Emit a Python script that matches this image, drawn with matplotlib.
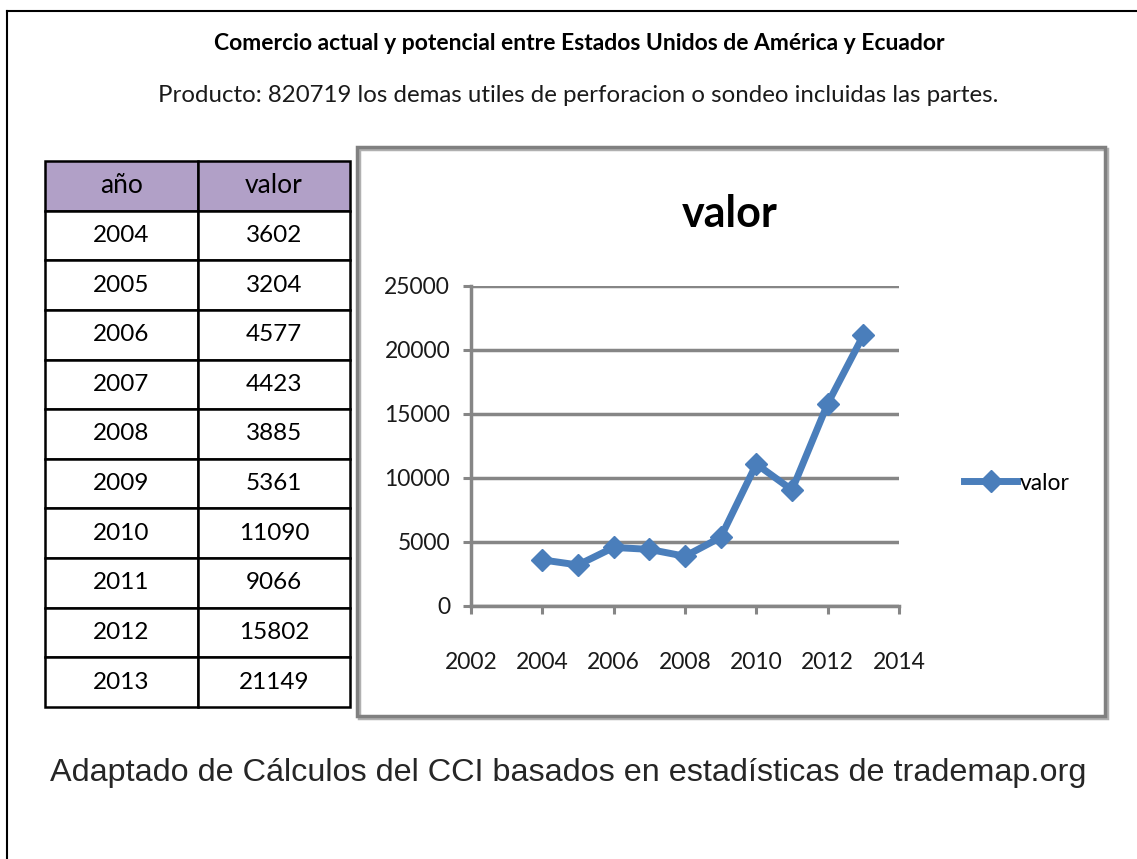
import matplotlib.pyplot as plt
from matplotlib.patches import Rectangle
from matplotlib.lines import Line2D

# data
years = [2004, 2005, 2006, 2007, 2008, 2009, 2010, 2011, 2012, 2013]
values = [3602, 3204, 4577, 4423, 3885, 5361, 11090, 9066, 15802, 21149]
col_labels = ["año", "valor"]
x_ticks = [2002, 2004, 2006, 2008, 2010, 2012, 2014]
y_ticks = [0, 5000, 10000, 15000, 20000, 25000]

W, H = 1137, 859
LINE_BLUE = "#4A7EBB"
GRID_GRAY = "#868686"
FONT = "Lato"


def fx(px):
    return px / W


def fy(py):
    return 1 - py / H


fig = plt.figure(figsize=(W / 100, H / 100), dpi=100)

# outer frame lines (top and left)
fig.add_artist(Line2D([fx(7), 1], [fy(11), fy(11)], color="black", lw=1.5))
fig.add_artist(Line2D([fx(7), fx(7)], [fy(11), 0], color="black", lw=1.5))

# titles
fig.text(fx(579), fy(44), "Comercio actual y potencial entre Estados Unidos de América y Ecuador",
         ha="center", va="center", fontsize=16.5, fontweight="bold", family=FONT, color="black")
fig.text(fx(578), fy(95), "Producto: 820719 los demas utiles de perforacion o sondeo incluidas las partes.",
         ha="center", va="center", fontsize=17.3, family=FONT, color="#1a1a1a")

# table
tax = fig.add_axes([fx(45), fy(707), fx(350) - fx(45), fy(161) - fy(707)])
tax.axis("off")
cell_text = [[str(y), str(v)] for y, v in zip(years, values)]
tbl = tax.table(cellText=cell_text, colLabels=col_labels, cellLoc="center",
                bbox=[0, 0, 1, 1], colWidths=[153, 152])
tbl.auto_set_font_size(False)
for (r, c), cell in tbl.get_celld().items():
    cell.set_linewidth(1.8)
    cell.set_edgecolor("black")
    cell.get_text().set_fontsize(17.5)
    cell.get_text().set_family(FONT)
    if r == 0:
        cell.set_facecolor("#B1A0C7")
        cell.get_text().set_fontsize(19)

# chart box
fig.add_artist(Rectangle((fx(359), fy(718)), fx(1107) - fx(359), fy(149) - fy(718),
                         fill=False, edgecolor="#B0B0B0", lw=2.5))
fig.add_artist(Rectangle((fx(357), fy(716)), fx(1105) - fx(357), fy(147) - fy(716),
                         fill=False, edgecolor="#808080", lw=2.5))

fig.text(fx(730), fy(214), "valor", ha="center", va="center", fontsize=31,
         fontweight="bold", family=FONT, color="black")

ax = fig.add_axes([fx(471), fy(606), fx(899) - fx(471), fy(286) - fy(606)])
ax.plot(years, values, color=LINE_BLUE, lw=5, marker="D", markersize=11,
        label="valor", clip_on=False)
ax.set_xlim(2002, 2014)
ax.set_ylim(0, 25000)
ax.set_xticks(x_ticks)
ax.set_yticks(y_ticks)
ax.grid(axis="y", color=GRID_GRAY, lw=2.5)
ax.set_axisbelow(True)
for s in ["top", "right"]:
    ax.spines[s].set_visible(False)
for s in ["left", "bottom"]:
    ax.spines[s].set_color(GRID_GRAY)
    ax.spines[s].set_linewidth(2.5)
ax.tick_params(axis="both", direction="out", length=6, width=2.2, color=GRID_GRAY,
               labelsize=16.5, labelcolor="#1a1a1a")
ax.tick_params(axis="x", pad=27)
ax.tick_params(axis="y", pad=9)
for lab in ax.get_xticklabels() + ax.get_yticklabels():
    lab.set_family(FONT)

leg = fig.legend(loc="center left", bbox_to_anchor=(fx(953), fy(483)), frameon=False,
                 handlelength=2.3, handletextpad=0.1, borderpad=0,
                 prop={"family": FONT, "size": 16.5})

# source note
fig.text(fx(50), fy(773), "Adaptado de Cálculos del CCI basados en estadísticas de trademap.org",
         ha="left", va="center", fontsize=23.3, family="Liberation Sans", color="#262626")

fig.savefig("out.png", dpi=100)
